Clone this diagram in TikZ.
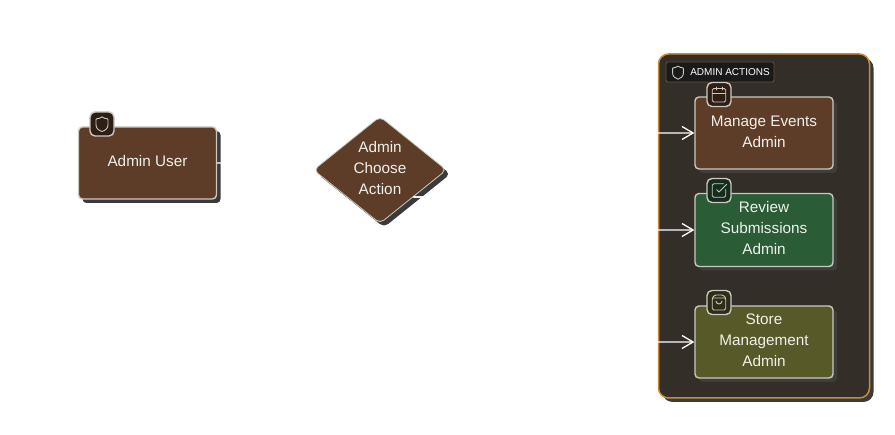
\documentclass[tikz,border=0pt]{standalone}
\usepackage{fontspec}
\setmainfont{Liberation Sans}
\usetikzlibrary{arrows.meta,shapes.geometric,shadows}

\definecolor{brownfill}{HTML}{5D3D27}
\definecolor{greenfill}{HTML}{2A5C36}
\definecolor{olivefill}{HTML}{575A28}
\definecolor{groupfill}{HTML}{332F28}
\definecolor{groupline}{HTML}{C98B35}
\definecolor{tagline}{HTML}{65532D}
\definecolor{tagfill}{HTML}{1A1A1A}
\definecolor{nodeline}{HTML}{C9C9C2}
\definecolor{nodetext}{HTML}{F0F0EC}
\definecolor{shadowdark}{HTML}{3B3A3A}
\definecolor{insideshadow}{HTML}{403E3D}

\tikzset{
  boxshadow/.style={general shadow={shadow xshift=#1,shadow yshift=-#1,fill=shadowdark,opacity=1}},
  raisedtext/.style={execute at end node={\rule[-#1]{0pt}{#1}}},
  flowbox/.style={draw=nodeline,line width=1.4pt,rounded corners=4pt,minimum width=138pt,
    text=nodetext,align=center,font=\fontsize{15.3}{21}\selectfont},
  flowshadow/.style={general shadow={shadow xshift=4pt,shadow yshift=-4pt,fill=insideshadow,opacity=1}},
  badge/.style={draw=nodeline,line width=1.4pt,rounded corners=5pt,minimum size=24pt,inner sep=0pt},
  link/.style={white,line width=1.3pt,-{Straight Barb[length=11pt,width=13pt]}},
  iconline/.style={nodeline,line width=0.9pt,line join=round,line cap=round},
  shieldicon/.pic={
    \draw[iconline] (0,-9.5) .. controls (2,-7.8) and (5,-7) .. (7,-7) -- (8,-6) -- (8,1)
      .. controls (8,6) and (4.5,8.5) .. (0,10) .. controls (-4.5,8.5) and (-8,6) .. (-8,1)
      -- (-8,-6) -- (-7,-7) .. controls (-5,-7) and (-2,-7.8) .. (0,-9.5) -- cycle;
  },
  calendaricon/.pic={
    \draw[iconline,rounded corners=1.6pt] (-9,-8) rectangle (9,10);
    \draw[iconline] (-4,-10) -- (-4,-6) (4,-10) -- (4,-6) (-9,-2) -- (9,-2);
  },
  checkicon/.pic={
    \draw[iconline,rounded corners=1.6pt] (9,-1.5) -- (9,9) -- (-9,9) -- (-9,-9) -- (6,-9);
    \draw[iconline] (-3,-1) -- (0,2) -- (10,-8);
  },
  bagicon/.pic={
    \draw[iconline,rounded corners=1.6pt] (-6,-10) -- (-9,-6) -- (-9,10) -- (9,10) -- (9,-6) -- (6,-10) -- cycle;
    \draw[iconline] (-9,-6) -- (9,-6) (4,-2) arc[start angle=0,end angle=180,radius=4];
  }
}

\begin{document}
\begin{tikzpicture}[x=1pt,y=-1pt]
\useasboundingbox (0,0) rectangle (895,435);

% group
\node (actions) [draw=groupline,fill=groupfill,line width=1.5pt,rounded corners=10pt,
  minimum width=211pt,minimum height=344pt,boxshadow=4pt] at (764,226) {};
\node (actionstag) [draw=tagline,fill=tagfill,line width=0.8pt,rounded corners=2pt,minimum width=108pt,
  minimum height=20pt,inner sep=0pt,text=white,font=\fontsize{10}{12}\selectfont] at (720,72) {\hspace*{20pt}ADMIN ACTIONS};
\pic[scale=0.67] at (678,72.5) {shieldicon};

% nodes
\node (user) [flowbox,fill=brownfill,boxshadow=4pt,minimum height=72pt,raisedtext=4pt] at (147.5,163) {Admin User};
\node (choose) [diamond,draw=nodeline,fill=brownfill,line width=0.8pt,rounded corners=5pt,boxshadow=4pt,
  aspect=1.26,inner sep=0pt,minimum width=133pt,minimum height=107pt,text=nodetext,align=center,
  font=\fontsize{15.3}{21}\selectfont,raisedtext=4pt] at (380,170) {Admin\\Choose\\Action};
\node (manage) [flowbox,fill=brownfill,flowshadow,minimum height=72pt,raisedtext=2pt] at (764,133) {Manage Events\\Admin};
\node (review) [flowbox,fill=greenfill,flowshadow,minimum height=73pt,raisedtext=4pt] at (764,230) {Review\\Submissions\\Admin};
\node (store) [flowbox,fill=olivefill,flowshadow,minimum height=72pt,raisedtext=4pt] at (764,342) {Store\\Management\\Admin};

% icons on the boxes
\node (userbadge) [badge,fill=brownfill!50!black] at (102,124) {};
\pic[scale=0.75] at (userbadge) {shieldicon};
\node (managebadge) [badge,fill=brownfill!50!black] at (719,94.5) {};
\pic[scale=0.75] at (managebadge) {calendaricon};
\node (reviewbadge) [badge,fill=greenfill!50!black] at (719,190.5) {};
\pic[scale=0.75] at (reviewbadge) {checkicon};
\node (storebadge) [badge,fill=olivefill!50!black] at (719,302.5) {};
\pic[scale=0.75] at (storebadge) {bagicon};

% links
\coordinate (inmanage) at (640,133);
\coordinate (inreview) at (640,230);
\coordinate (instore) at (640,342);
\draw[link] (user.east) to[out=0,in=180] (choose.west);
\draw[link] (choose.south east) -- ++(20,0) to[out=0,in=180] (inmanage) -- (manage.west);
\draw[link] (choose.south east) -- ++(20,0) to[out=0,in=180] (inreview) -- (review.west);
\draw[link] (choose.south east) -- ++(20,0) to[out=0,in=180] (instore) -- (store.west);
\end{tikzpicture}
\end{document}
